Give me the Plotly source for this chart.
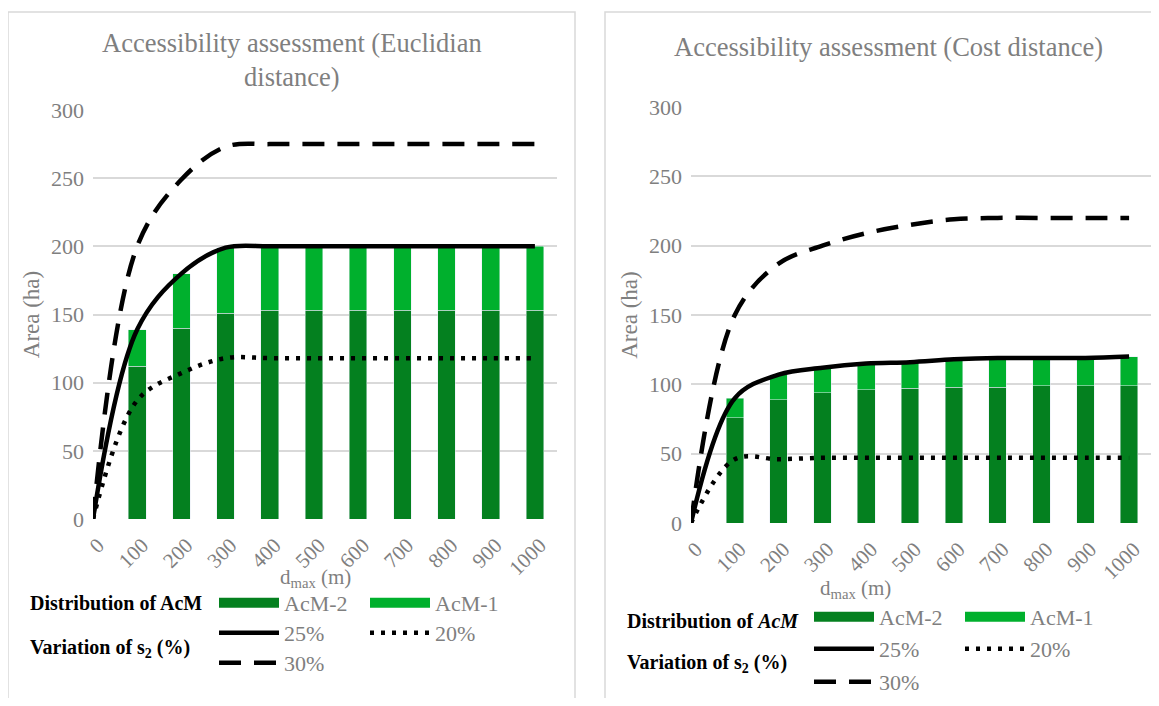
import plotly.graph_objects as go

# categories (d_max in m)
d_max = ["0", "100", "200", "300", "400", "500", "600", "700", "800", "900", "1000"]
bar_x = d_max[1:]

# Euclidian distance panel
euc_acm2 = [112, 140, 151, 153, 153, 153, 153, 153, 153, 153]
euc_acm1 = [27, 40, 48, 47, 47, 47, 47, 47, 47, 47]
euc_s25 = [0, 139, 180, 199, 200, 200, 200, 200, 200, 200, 200]
euc_s20 = [0, 87, 107, 118, 118, 118, 118, 118, 118, 118, 118]
euc_s30 = [0, 200, 249, 273, 275, 275, 275, 275, 275, 275, 275]

# Cost distance panel
cost_acm2 = [76, 89, 94, 96, 97, 98, 98, 99, 99, 99]
cost_acm1 = [14, 18, 18, 19, 19, 20, 21, 20, 20, 21]
cost_s25 = [0, 90, 107, 112, 115, 116, 118, 119, 119, 119, 120]
cost_s20 = [0, 46, 46, 47, 47, 47, 47, 47, 47, 47, 47]
cost_s30 = [0, 150, 187, 200, 209, 215, 219, 220, 220, 220, 220]

DARK = "#04801F"
LIGHT = "#00B02D"
GREY = "#7f7f7f"
GRID = "#d9d9d9"
FONT = "Liberation Serif"
# page body has an 8px margin, so the figure fills the rest of the window
W, H = 1143, 690


def px(x):
    return (x - 8) / W


def py(y):
    return 1 - (y - 8) / H


fig = go.Figure()


def add_panel(acm2, acm1, s25, s20, s30, ax, legs):
    xa, ya = ("x", "y") if ax == 1 else ("x%d" % ax, "y%d" % ax)
    g = "p%d" % ax
    # bars
    fig.add_trace(go.Bar(x=bar_x, y=acm2, marker_color=DARK, name="AcM-2", xaxis=xa, yaxis=ya,
                         legendgroup=g + "a2", showlegend=False))
    fig.add_trace(go.Bar(x=bar_x, y=acm1, marker_color=LIGHT, name="AcM-1", xaxis=xa, yaxis=ya,
                         legendgroup=g + "a1", showlegend=False))
    # wide legend swatches for bars
    fig.add_trace(go.Scatter(x=[None], y=[None], mode="lines", line=dict(color=DARK, width=11),
                             name="AcM-2", legendgroup=g + "a2", legend=legs[0], xaxis=xa, yaxis=ya))
    fig.add_trace(go.Scatter(x=[None], y=[None], mode="lines", line=dict(color=LIGHT, width=11),
                             name="AcM-1", legendgroup=g + "a1", legend=legs[0], xaxis=xa, yaxis=ya))
    # lines
    fig.add_trace(go.Scatter(x=d_max, y=s25, mode="lines", name="25%", legend=legs[1],
                             line=dict(color="black", width=4.5, shape="spline", smoothing=1),
                             xaxis=xa, yaxis=ya))
    fig.add_trace(go.Scatter(x=d_max, y=s20, mode="lines", name="20%", legend=legs[1],
                             line=dict(color="black", width=4.5, shape="spline", smoothing=1, dash="4px,7px"),
                             xaxis=xa, yaxis=ya))
    fig.add_trace(go.Scatter(x=d_max, y=s30, mode="lines", name="30%", legend=legs[2],
                             line=dict(color="black", width=4.5, shape="spline", smoothing=1, dash="22px,13px"),
                             xaxis=xa, yaxis=ya))


add_panel(euc_acm2, euc_acm1, euc_s25, euc_s20, euc_s30, 1, ["legend", "legend2", "legend3"])
add_panel(cost_acm2, cost_acm1, cost_s25, cost_s20, cost_s30, 2, ["legend4", "legend5", "legend6"])

xcommon = dict(type="category", categoryorder="array", categoryarray=d_max, tickangle=-45,
               tickfont=dict(family=FONT, size=21, color=GREY), showgrid=False, zeroline=False,
               showline=False, ticks="", automargin=False, ticklabelstandoff=9, ticklabelshift=5)
ycommon = dict(range=[0, 300], tickvals=[0, 50, 100, 150, 200, 250, 300], showgrid=True, gridcolor=GRID,
               gridwidth=1.5, zeroline=False, showline=False, ticks="", automargin=False,
               ticklabelstandoff=8, tickfont=dict(family=FONT, size=22, color=GREY),
               title_font=dict(family=FONT, size=23, color=GREY), title_text="Area (ha)", title_standoff=4)


def legend_at(x, y):
    return dict(x=px(x), y=py(y), xanchor="left", yanchor="middle", orientation="h",
                entrywidth=76, entrywidthmode="pixels", itemwidth=60, bgcolor="rgba(0,0,0,0)",
                font=dict(family=FONT, size=22, color=GREY), tracegroupgap=0)


fig.update_layout(
    width=W, height=H, margin=dict(l=0, r=0, t=0, b=0, autoexpand=False),
    paper_bgcolor="white", plot_bgcolor="white",
    barmode="stack", bargap=0.6,
    font=dict(family=FONT, color=GREY),
    xaxis=dict(domain=[px(93), px(557)], anchor="y", **xcommon),
    yaxis=dict(domain=[py(519), py(110)], anchor="x", **ycommon),
    xaxis2=dict(domain=[px(691), px(1151)], anchor="y2", **xcommon),
    yaxis2=dict(domain=[py(523), py(107)], anchor="x2", **ycommon),
    legend=legend_at(214, 603),
    legend2=legend_at(214, 633),
    legend3=legend_at(214, 663),
    legend4=legend_at(809, 617),
    legend5=legend_at(809, 649),
    legend6=legend_at(809, 682),
)

# panel borders
for x0, x1 in [(8, 575), (605, 1200)]:
    fig.add_shape(type="rect", xref="paper", yref="paper", x0=px(x0), x1=px(x1), y0=-0.1, y1=py(12),
                  line=dict(color=GRID, width=1.5), fillcolor="rgba(0,0,0,0)", layer="below")

tfont = dict(family=FONT, size=26.5, color=GREY)
afont = dict(family=FONT, size=21, color=GREY)
lfont = dict(family=FONT, size=20, color="black")
annos = [
    dict(text="Accessibility assessment (Euclidian<br>distance)", x=px(292), y=py(60), font=tfont,
         xanchor="center", yanchor="middle"),
    dict(text="Accessibility assessment (Cost distance)", x=px(888), y=py(47), font=tfont,
         xanchor="center", yanchor="middle"),
    dict(text="d<sub>max</sub> (m)", x=px(315), y=py(578), font=afont, xanchor="center", yanchor="middle"),
    dict(text="d<sub>max</sub> (m)", x=px(855), y=py(589), font=afont, xanchor="center", yanchor="middle"),
    dict(text="<b>Distribution of AcM</b>", x=px(28), y=py(603), font=lfont, xanchor="left", yanchor="middle"),
    dict(text="<b>Variation of s<sub>2</sub> (%)</b>", x=px(28), y=py(648), font=lfont,
         xanchor="left", yanchor="middle"),
    dict(text="<b>Distribution of <i>AcM</i></b>", x=px(625), y=py(621), font=lfont,
         xanchor="left", yanchor="middle"),
    dict(text="<b>Variation of s<sub>2</sub> (%)</b>", x=px(625), y=py(663), font=lfont,
         xanchor="left", yanchor="middle"),
]
for a in annos:
    fig.add_annotation(xref="paper", yref="paper", showarrow=False, **a)

fig.write_html("out.html")
